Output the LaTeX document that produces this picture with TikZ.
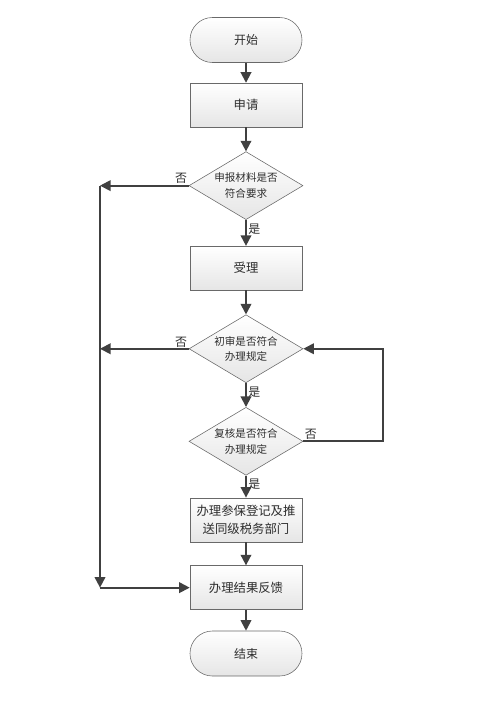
\documentclass[tikz,border=0pt]{standalone}
\usepackage{fontspec}
\newfontfamily\cjk{Noto Sans CJK SC}
\usetikzlibrary{arrows.meta,shapes.geometric,positioning}
\definecolor{lngray}{RGB}{64,64,64}
\definecolor{bdgray}{RGB}{105,105,105}
\definecolor{txgray}{RGB}{45,45,45}
\tikzstyle{arrow} = [line width=1.3pt,-{Triangle[length=7.5pt,width=7.5pt]},color=lngray]
\tikzstyle{terminal} = [rectangle, rounded corners=0.56cm, minimum width=2.8cm, minimum height=1.125cm, text centered, draw=bdgray, top color=white, bottom color=black!10, text=txgray, font=\cjk\fontsize{8.5}{10}\selectfont]
\tikzstyle{process} = [rectangle, minimum width=2.8cm, minimum height=1.1cm, align=center, draw=bdgray, top color=white, bottom color=black!10, text=txgray, font=\cjk\fontsize{8.8}{13}\selectfont]
\tikzstyle{decision} = [diamond, aspect=1.7, inner sep=0pt, minimum width=2.85cm, minimum height=1.7cm, align=center, draw=bdgray, top color=white, bottom color=black!10, text=txgray, font=\cjk\fontsize{7.5}{11}\selectfont]
\tikzstyle{answer} = [inner sep=1pt, text=txgray, font=\cjk\fontsize{8.5}{10}\selectfont]

\begin{document}
\begin{tikzpicture}[node distance=0.6cm]
\useasboundingbox (0,0) rectangle (12.4,-17.775);
% main column
\node (start) [terminal] at (6.15,-1.0) {开始};
\node (apply) [process, below=0.5cm of start] {申请};
\node (chkdoc) [decision, below=of apply] {申报材料是否\\符合要求};
\node (accept) [process, below=0.65cm of chkdoc] {受理};
\node (chkfirst) [decision, below=of accept] {初审是否符合\\办理规定};
\node (chkreview) [decision, below=0.6cm of chkfirst] {复核是否符合\\办理规定};
\node (register) [process, below=0.55cm of chkreview] {办理参保登记及推\\送同级税务部门};
\node (feedback) [process, below=0.58cm of register] {办理结果反馈};
\node (finish) [terminal, below=0.52cm of feedback] {结束};

% side lines
\coordinate (bus) at (2.5,0);
\coordinate (loop) at (9.575,0);

\draw[arrow] (start) -- (apply);
\draw[arrow] (apply) -- (chkdoc);
\draw[arrow] (chkdoc) -- node[answer, pos=0.05, anchor=north west] {是} (accept);
\draw[arrow] (accept) -- (chkfirst);
\draw[arrow] (chkfirst) -- node[answer, pos=0.05, anchor=north west] {是} (chkreview);
\draw[arrow] (chkreview) -- node[answer, pos=0.05, anchor=north west] {是} (register);
\draw[arrow] (register) -- (feedback);
\draw[arrow] (feedback) -- (finish);

% rejections
\draw[arrow] (chkdoc.west) -- (chkdoc.west -| bus);
\node[answer, above left] at (chkdoc.west) {否};
\draw[arrow] (chkfirst.west) -- (chkfirst.west -| bus);
\node[answer, above left] at (chkfirst.west) {否};
\draw[arrow] (chkdoc.west -| bus) -- (feedback.west -| bus);
\draw[arrow] (feedback.west -| bus) -- (feedback.west);

% review loop
\draw[arrow] (chkreview.east) -- (chkreview.east -| loop) |- (chkfirst.east);
\node[answer, above right] at (chkreview.east) {否};
\end{tikzpicture}
\end{document}
